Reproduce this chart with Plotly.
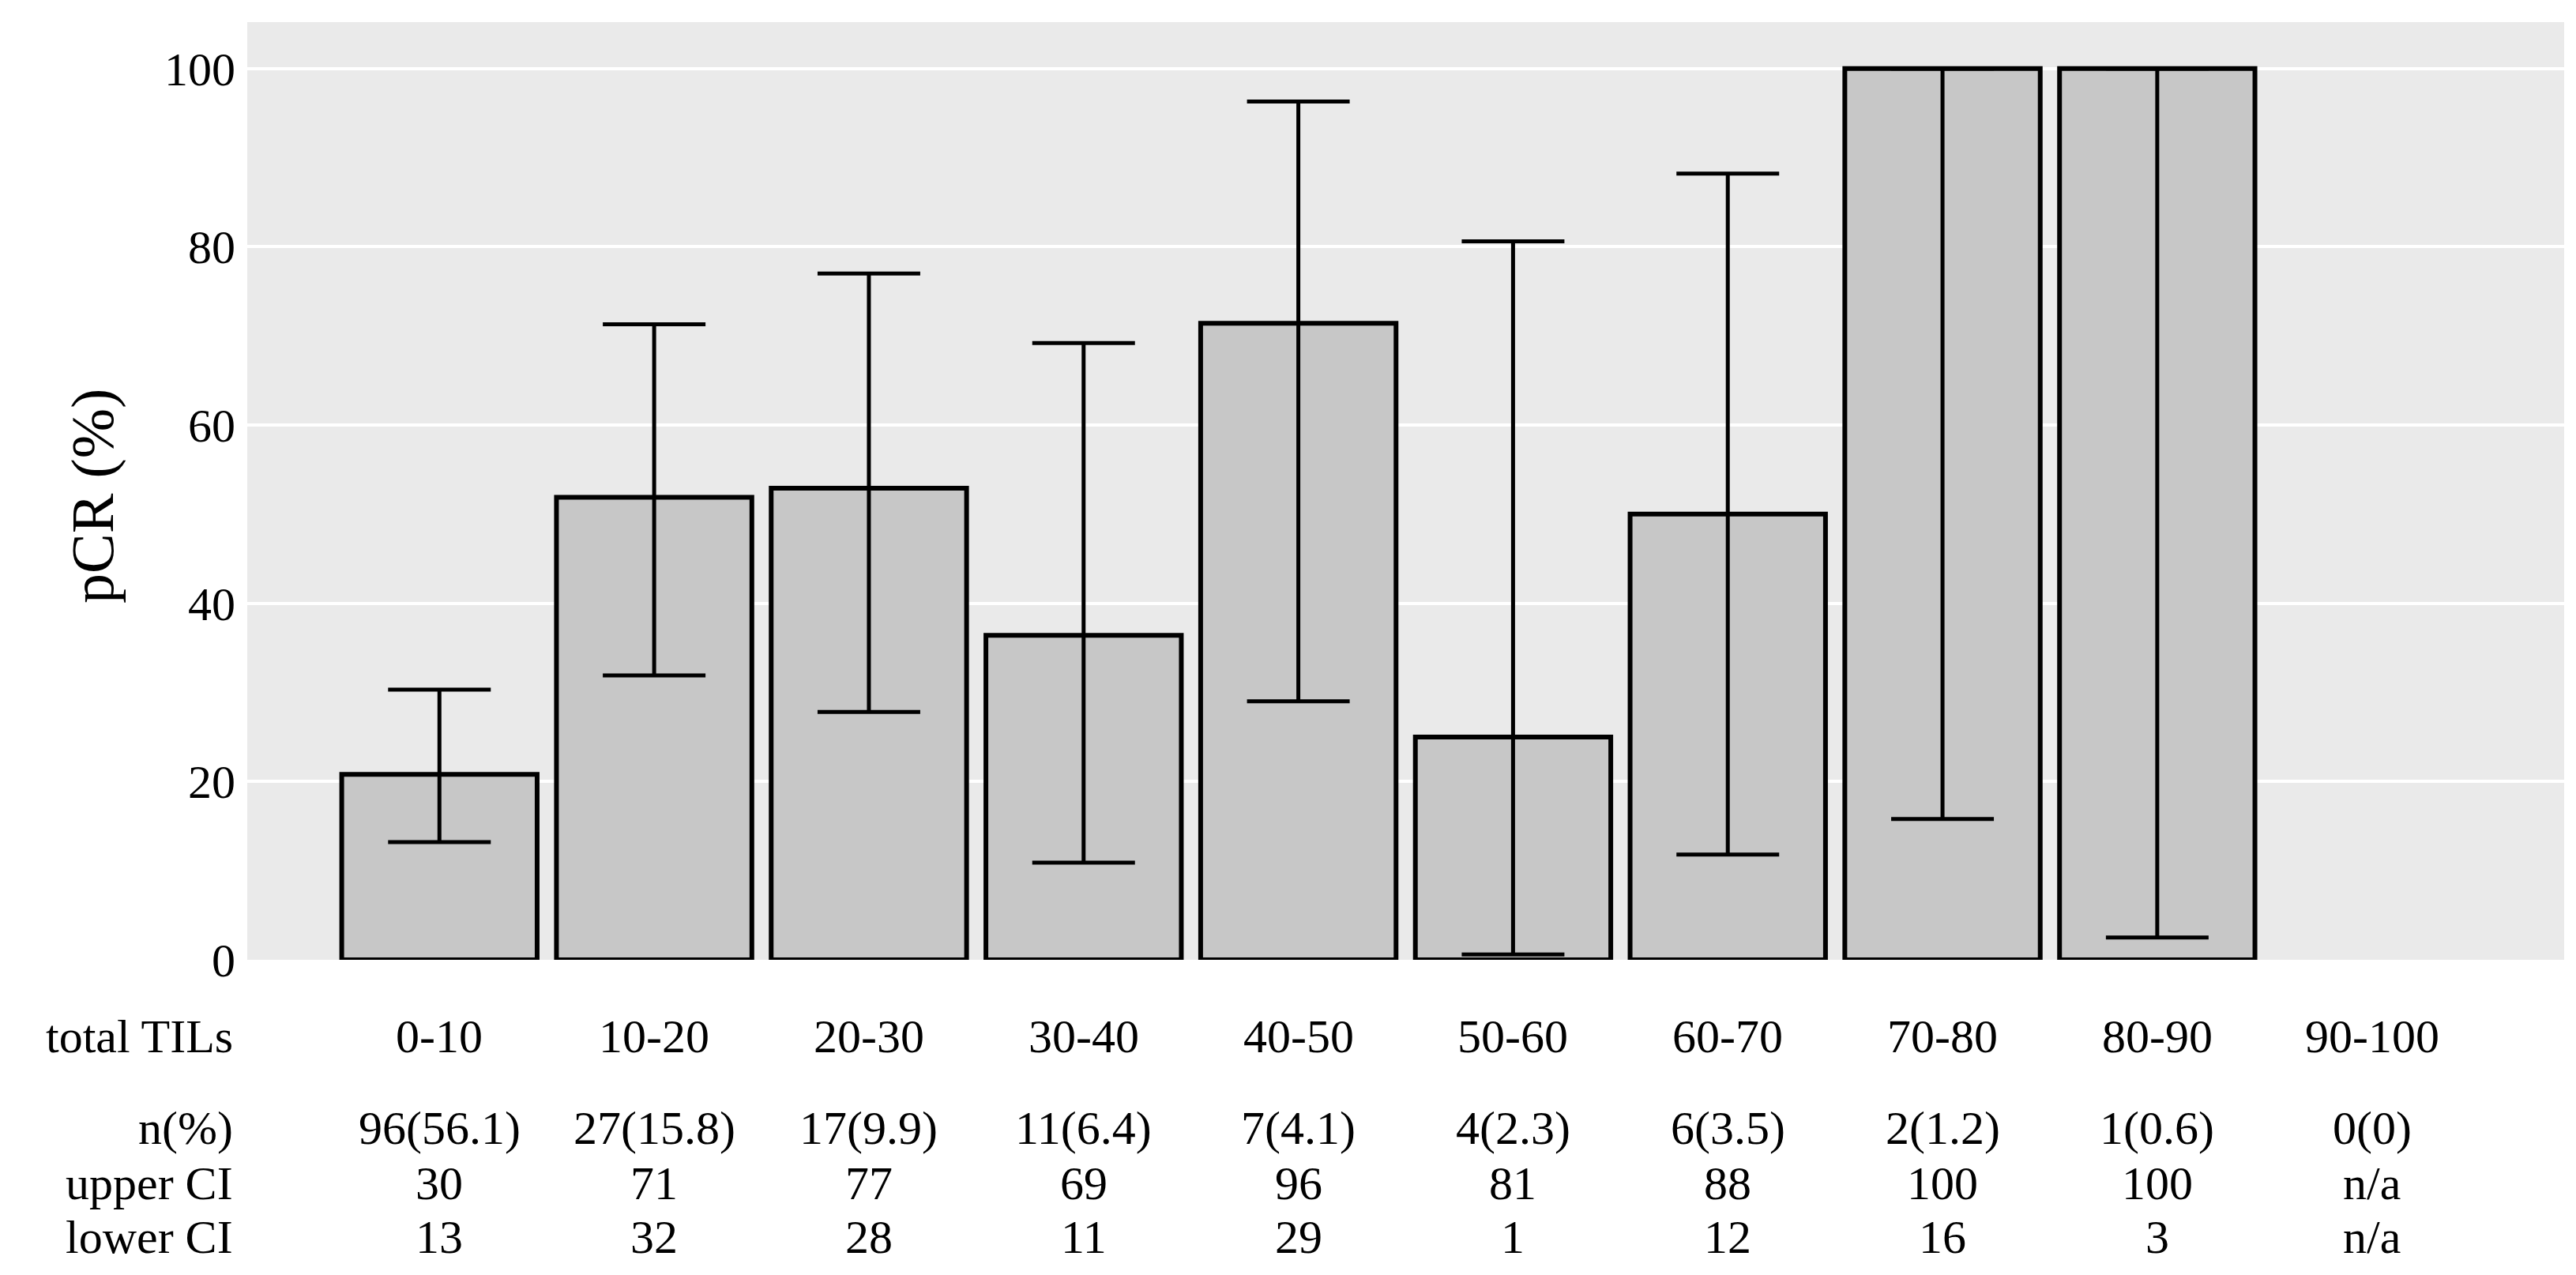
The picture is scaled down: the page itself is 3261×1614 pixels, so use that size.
import plotly.graph_objects as go

categories = ["0-10", "10-20", "20-30", "30-40", "40-50", "50-60", "60-70", "70-80", "80-90", "90-100"]
pcr = [20.8, 51.9, 52.9, 36.4, 71.4, 25.0, 50.0, 100.0, 100.0, None]
ci_upper = [30.3, 71.3, 77.0, 69.2, 96.3, 80.6, 88.2, 100.0, 100.0, None]
ci_lower = [13.2, 31.9, 27.8, 10.9, 29.0, 0.6, 11.8, 15.8, 2.5, None]
n_counts = [96, 27, 17, 11, 7, 4, 6, 2, 1, 0]
n_pct = ["56.1", "15.8", "9.9", "6.4", "4.1", "2.3", "3.5", "1.2", "0.6", "0"]
upper_labels = ["30", "71", "77", "69", "96", "81", "88", "100", "100", "n/a"]
lower_labels = ["13", "32", "28", "11", "29", "1", "12", "16", "3", "n/a"]
row_labels = ["total TILs", "n(%)", "upper CI", "lower CI"]
y_ticks = [0, 20, 40, 60, 80, 100]
y_title = "pCR (%)"

FONT = "Liberation Serif"
FS = 60

err_plus = [(u - v) if (u is not None and v is not None) else None for u, v in zip(ci_upper, pcr)]
err_minus = [(v - l) if (l is not None and v is not None) else None for l, v in zip(ci_lower, pcr)]

W, H = 3261, 1614
ML, MR, MT, MB = 305, 23, 20, 407
PLOT_W = W - ML - MR
PLOT_H = H - MT - MB

def py(pix):
    return (H - MB - pix) / PLOT_H

def px(pix):
    return (pix - ML) / PLOT_W

fig = go.Figure()
fig.add_trace(go.Bar(
    x=categories, y=pcr,
    marker=dict(color="#C7C7C7", line=dict(color="black", width=6)),
    width=0.91,
    error_y=dict(type="data", symmetric=False, array=err_plus, arrayminus=err_minus,
                 color="black", thickness=5, width=65),
    showlegend=False,
))

row_y = [py(1304), py(1420), py(1490), py(1558)]
rows = [
    categories,
    [f"{n}({p})" for n, p in zip(n_counts, n_pct)],
    upper_labels,
    lower_labels,
]
annotations = []
for ry, label, vals in zip(row_y, row_labels, rows):
    annotations.append(dict(x=px(289), xref="paper", y=ry, yref="paper", text=label,
                            showarrow=False, xanchor="right", yanchor="middle",
                            font=dict(family=FONT, size=FS, color="black")))
    for c, v in zip(categories, vals):
        annotations.append(dict(x=c, xref="x", y=ry, yref="paper", text=v,
                                showarrow=False, xanchor="center", yanchor="middle",
                                font=dict(family=FONT, size=FS, color="black")))

# y-axis title
annotations.append(dict(x=px(110), xref="paper", y=py(620), yref="paper", text=y_title,
                        textangle=-90, showarrow=False, xanchor="center", yanchor="middle",
                        font=dict(family=FONT, size=76, color="black")))

fig.update_layout(
    width=W, height=H,
    margin=dict(l=ML, r=MR, t=MT, b=MB),
    paper_bgcolor="white",
    plot_bgcolor="#EAEAEA",
    font=dict(family=FONT, size=FS, color="black"),
    annotations=annotations,
    xaxis=dict(type="category", range=[-0.895, 9.895], showticklabels=False,
               showgrid=False, zeroline=False, ticks="", showline=False),
    yaxis=dict(range=[0, 105.2], tickvals=y_ticks, showgrid=True, gridcolor="white",
               gridwidth=3.5, zeroline=False, ticks="", showline=False,
               ticklabelstandoff=14,
               tickfont=dict(family=FONT, size=FS, color="black")),
    bargap=0.09,
)

fig.write_html("out.html")
